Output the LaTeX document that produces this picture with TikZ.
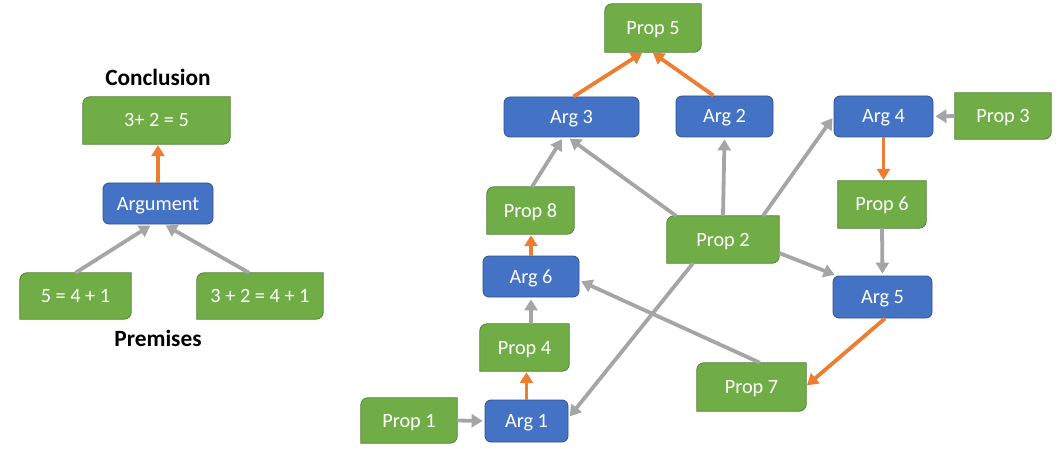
\documentclass[tikz,border=0pt]{standalone}
\usepackage{fontspec}
\setmainfont{Carlito}
\usepackage{xcolor}
\definecolor{argfill}{RGB}{68, 114, 196}
\definecolor{argline}{RGB}{47, 82, 143}
\definecolor{propfill}{RGB}{112, 173, 71}
\definecolor{propline}{RGB}{80, 126, 50}
\definecolor{supportcolor}{RGB}{165, 165, 165}
\definecolor{concludecolor}{RGB}{237, 125, 49}
\usepackage{tikz}
\usetikzlibrary{arrows.meta, calc}
\pgfdeclarelayer{bg}
\pgfsetlayers{bg,main}
\newcommand{\boxfont}{\fontsize{20.3}{24}\selectfont}
\tikzset{
  arg/.style={draw=argline, fill=argfill, line width=0.8pt, rounded corners=6pt,
    text=white, font=\boxfont, text height=13pt, text depth=0pt, minimum height=41pt},
  prop/.style={text=white, font=\boxfont, text height=13pt, text depth=0pt, minimum height=47pt,
    append after command={\pgfextra{\begin{pgfonlayer}{bg}
      \draw[draw=propline, fill=propfill, line width=0.8pt]
        (\tikzlastnode.south west) [rounded corners=#1] -- (\tikzlastnode.north west)
        [sharp corners] -- (\tikzlastnode.north east)
        [rounded corners=7pt] -- (\tikzlastnode.south east)
        [sharp corners] -- cycle;
    \end{pgfonlayer}}}},
  prop/.default=7pt,
  heading/.style={font=\fontsize{23.3}{27}\selectfont\bfseries},
  support/.style={-{Triangle[length=11pt,width=13pt]}, color=supportcolor,
    line width=3.8pt, shorten >=2pt},
  conclude/.style={-{Triangle[length=11pt,width=13pt]}, color=concludecolor,
    line width=3.8pt, shorten >=1pt}
}
\begin{document}
\begin{tikzpicture}[x=1pt, y=-1pt]
  \useasboundingbox (0,0) rectangle (1062,449);
  % single argument
  \node[heading] (conclusionlabel) at (158,77) {Conclusion};
  \node[prop, minimum width=147pt] (conclusion) at (156.5,120.5) {3+ 2 = 5};
  \node[arg, minimum width=110pt] (argument) at (158,203.5) {Argument};
  \node[prop, minimum width=111pt, minimum height=46pt] (premise1) at (75.5,296) {5 = 4 + 1};
  \node[prop, minimum width=126pt, minimum height=46pt] (premise2) at (260,296) {3 + 2 = 4 + 1};
  \node[heading] (premiseslabel) at (158,338) {Premises};
  % argument graph
  \node[prop, minimum width=96pt, minimum height=48pt] (prop5) at (653,28) {Prop 5};
  \node[arg, minimum width=135pt, minimum height=40pt] (arg3) at (571.5,117) {Arg 3};
  \node[arg, minimum width=97pt] (arg2) at (724.5,116.5) {Arg 2};
  \node[arg, minimum width=99pt] (arg4) at (883.5,116.5) {Arg 4};
  \node[prop=0pt, minimum width=96pt, minimum height=46pt] (prop3) at (1003,116) {Prop 3};
  \node[prop=0pt, minimum width=88pt] (prop6) at (882,204.5) {Prop 6};
  \node[prop, minimum width=112pt] (prop2) at (723,239.5) {Prop 2};
  \node[arg, minimum width=99pt, minimum height=42pt] (arg5) at (882.5,297) {Arg 5};
  \node[prop, minimum width=109pt, minimum height=48pt] (prop7) at (751.5,387) {Prop 7};
  \node[prop, minimum width=87pt] (prop8) at (530.5,210.5) {Prop 8};
  \node[arg, minimum width=96pt] (arg6) at (531,276.5) {Arg 6};
  \node[prop, minimum width=89pt] (prop4) at (524.5,347.5) {Prop 4};
  \node[prop, minimum width=96pt, minimum height=45pt] (prop1) at (409,420.5) {Prop 1};
  \node[arg, minimum width=83pt, minimum height=42pt] (arg1) at (526.5,421) {Arg 1};

  \path[support]
    (premise1.north) edge ([xshift=-6pt]argument.south)
    ([xshift=-11pt]premise2.north) edge ([xshift=6pt]argument.south)
    (prop2.north) edge (arg2.south)
    ([xshift=40pt]prop2.north) edge (arg4.west)
    ([yshift=-13.5pt]prop2.east) edge ([xshift=-46pt]arg5.north)
    ([xshift=-47pt]prop2.north) edge ([xshift=-3.5pt]arg3.south)
    ([xshift=1.5pt]prop8.north) edge ([xshift=-8.5pt]arg3.south)
    ([xshift=-30pt]prop2.south) edge ([yshift=3pt]arg1.east)
    ([xshift=8.5pt]prop7.north) edge ([yshift=-4pt]arg6.east)
    (prop1.east) edge (arg1.west)
    (arg6.south |- prop4.north) edge (arg6.south)
    (prop3.west) edge (arg4.east)
    (prop6.south) edge (arg5.north);
  \path[conclude]
    (argument.north) edge (argument.north |- conclusion.south)
    ([xshift=2pt]arg3.north) edge ([xshift=-10pt]prop5.south)
    ([xshift=-11pt]arg2.north) edge ([xshift=-1pt]prop5.south)
    (arg1.north) edge (arg1.north |- prop4.south)
    (arg6.north) edge (arg6.north |- prop8.south)
    (arg4.south) edge (arg4.south |- prop6.north)
    ([xshift=2.5pt]arg5.south) edge ([yshift=1pt]prop7.east);
\end{tikzpicture}
\end{document}
